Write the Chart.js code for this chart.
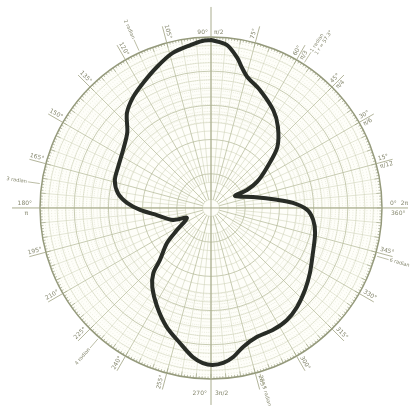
<!DOCTYPE html>
<html>
<head>
<meta charset="utf-8">
<script src="https://cdn.jsdelivr.net/npm/chart.js@4/dist/chart.umd.min.js"></script>
<style>
  html, body { margin: 0; padding: 0; background: #ffffff; }
  canvas { display: block; }
</style>
</head>
<body>
<canvas id="polar" width="415" height="406"></canvas>
<script>
// Curve traced counter-clockwise, starting at the top: angle in degrees, radius as a fraction of the rim
const thetaDeg = [90, 93, 97, 104, 111, 118.5, 125, 131.5, 138, 146.5, 156, 164, 171, 176.5, 181.5, 187.5, 197.5, 202.5,
  213, 218.5, 225.5, 228.5, 233.5, 241.5, 249.5, 257, 263, 267, 270.5, 274.5, 278.5, 283, 289.5, 297, 304, 311, 319,
  326.5, 336, 346.5, 353.5, 359, 3.5, 7, 14.5, 26.5, 26.5, 29.5, 36, 42.5, 50.5, 57.5, 67.5, 74.5, 77.5, 80, 84.5];
const radius = [0.982, 0.978, 0.961, 0.933, 0.883, 0.832, 0.793, 0.742, 0.659, 0.616, 0.594, 0.585, 0.551, 0.492, 0.415,
  0.319, 0.233, 0.152, 0.237, 0.329, 0.426, 0.509, 0.577, 0.659, 0.742, 0.810, 0.878, 0.908, 0.918, 0.909, 0.881, 0.834,
  0.801, 0.800, 0.792, 0.767, 0.729, 0.693, 0.652, 0.626, 0.601, 0.561, 0.480, 0.389, 0.254, 0.157, 0.235, 0.309, 0.406,
  0.526, 0.615, 0.678, 0.747, 0.795, 0.839, 0.890, 0.958];

// Rim labels
const degreeTicks = [15, 30, 45, 60, 75, 105, 120, 135, 150, 165, 195, 210, 225, 240, 255, 285, 300, 315, 330, 345];
const radianTicks = [1, 2, 3, 4, 5, 6];
const radianText = ['1 radian', '2 radian', '3 radian', '4 radian', '5 radian', '6 radian'];
const piText = { 15: 'π/12', 30: 'π/6', 45: 'π/4', 60: 'π/3' };

const toRad = d => d * Math.PI / 180;
const curve = thetaDeg.map((t, i) => ({ x: radius[i] * Math.cos(toRad(t)), y: radius[i] * Math.sin(toRad(t)) }));
curve.push({ ...curve[0] });

const GRID = 'rgba(178,184,150,0.8)';
const GRID_LIGHT = 'rgba(196,200,170,0.65)';
const RIM = '#959a7c';
const INK = '#85876e';

const polarPaper = {
  id: 'polarPaper',
  beforeDatasetsDraw(chart) {
    const { ctx, scales: { x, y } } = chart;
    const cx = x.getPixelForValue(0), cy = y.getPixelForValue(0);
    const R = x.getPixelForValue(1) - cx;
    const pt = (deg, r) => [cx + r * Math.cos(toRad(deg)), cy - r * Math.sin(toRad(deg))];
    ctx.save();

    // paper tint inside the rim
    ctx.fillStyle = '#fefef9';
    ctx.beginPath(); ctx.arc(cx, cy, R, 0, Math.PI * 2); ctx.fill();

    // concentric circles
    for (let k = 1; k < 20; k++) {
      ctx.strokeStyle = (k % 4 === 0) ? GRID : GRID_LIGHT;
      ctx.lineWidth = (k % 4 === 0) ? 0.9 : 0.7;
      ctx.beginPath(); ctx.arc(cx, cy, R * k / 20, 0, Math.PI * 2); ctx.stroke();
    }

    // fine 1-degree dotted radials in the outer band
    ctx.strokeStyle = 'rgba(192,196,160,0.5)';
    ctx.lineWidth = 0.6;
    ctx.setLineDash([1, 2.5]);
    for (let d = 0; d < 360; d++) {
      if (d % 5 === 0) continue;
      const a = pt(d, R * 0.5), b = pt(d, R);
      ctx.beginPath(); ctx.moveTo(a[0], a[1]); ctx.lineTo(b[0], b[1]); ctx.stroke();
    }
    ctx.setLineDash([]);

    // radial lines every 5 and 15 degrees
    for (let d = 0; d < 360; d += 5) {
      const major = d % 15 === 0;
      ctx.strokeStyle = major ? GRID : GRID_LIGHT;
      ctx.lineWidth = major ? 0.9 : 0.7;
      const a = pt(d, R * (major ? 0.05 : 0.15)), b = pt(d, R);
      ctx.beginPath(); ctx.moveTo(a[0], a[1]); ctx.lineTo(b[0], b[1]); ctx.stroke();
    }

    // rim degree ticks
    ctx.strokeStyle = RIM;
    for (let d = 0; d < 360; d++) {
      const len = d % 5 === 0 ? 5 : 2.5;
      ctx.lineWidth = 0.6;
      const a = pt(d, R - len), b = pt(d, R);
      ctx.beginPath(); ctx.moveTo(a[0], a[1]); ctx.lineTo(b[0], b[1]); ctx.stroke();
    }

    // rim
    ctx.lineWidth = 1.5;
    ctx.strokeStyle = RIM;
    ctx.beginPath(); ctx.arc(cx, cy, R, 0, Math.PI * 2); ctx.stroke();

    // main axes running past the rim
    ctx.lineWidth = 1;
    ctx.strokeStyle = '#a9ac8e';
    ctx.beginPath();
    ctx.moveTo(cx - R - 28, cy); ctx.lineTo(cx + R + 26, cy);
    ctx.moveTo(cx, cy - R - 30); ctx.lineTo(cx, cy + R + 26);
    ctx.stroke();

    // outside ticks and labels every 15 degrees
    ctx.fillStyle = INK;
    ctx.font = '6px "DejaVu Sans", sans-serif';
    degreeTicks.forEach(d => {
      const a = pt(d, R), b = pt(d, R + 17);
      ctx.strokeStyle = '#a9ac8e'; ctx.lineWidth = 0.9;
      ctx.beginPath(); ctx.moveTo(a[0], a[1]); ctx.lineTo(b[0], b[1]); ctx.stroke();
      const right = Math.cos(toRad(d)) > 0;
      const label = d + '°';
      ctx.save();
      const p = pt(d, R + 3);
      ctx.translate(p[0], p[1]);
      ctx.rotate(right ? -toRad(d) : Math.PI - toRad(d));
      ctx.textAlign = right ? 'left' : 'right';
      ctx.textBaseline = 'bottom';
      ctx.fillText(label, 0, -1);
      if (piText[d]) { ctx.textBaseline = 'top'; ctx.fillText(piText[d], 0, 1); }
      ctx.restore();
    });

    // radian marks
    radianTicks.forEach((r, i) => {
      const d = r * 180 / Math.PI;
      const a = pt(d, R + 2), b = pt(d, R + 14);
      ctx.strokeStyle = '#a9ac8e'; ctx.lineWidth = 0.8;
      ctx.beginPath(); ctx.moveTo(a[0], a[1]); ctx.lineTo(b[0], b[1]); ctx.stroke();
      const right = Math.cos(toRad(d)) > 0;
      ctx.save();
      const p = pt(d, R + 15);
      ctx.translate(p[0], p[1]);
      ctx.rotate(right ? -toRad(d) : Math.PI - toRad(d));
      ctx.textAlign = right ? 'left' : 'right';
      ctx.textBaseline = 'middle';
      ctx.font = '5px "DejaVu Sans", sans-serif';
      ctx.fillText(radianText[i], 0, 0);
      if (r === 1) { ctx.textBaseline = 'top'; ctx.fillText('1 r = 57.3°', 0, 3); }
      ctx.restore();
    });

    // cardinal labels
    ctx.font = '6px "DejaVu Sans", sans-serif';
    ctx.textBaseline = 'bottom';
    ctx.textAlign = 'right';
    ctx.fillText('90°', cx - 3, cy - R - 2);
    ctx.fillText('180°', cx - R - 8, cy - 2);
    ctx.textAlign = 'left';
    ctx.fillText('π/2', cx + 3, cy - R - 2);
    ctx.fillText('0°  2π', cx + R + 8, cy - 2);
    ctx.textBaseline = 'top';
    ctx.fillText('360°', cx + R + 9, cy + 2);
    ctx.textAlign = 'right';
    ctx.fillText('π', cx - R - 12, cy + 2);
    ctx.textBaseline = 'middle';
    ctx.fillText('270°', cx - 4, cy + R + 14);
    ctx.textAlign = 'left';
    ctx.fillText('3π/2', cx + 4, cy + R + 14);

    ctx.restore();
  }
};

new Chart(document.getElementById('polar'), {
  type: 'scatter',
  data: {
    datasets: [{
      data: curve,
      showLine: true,
      borderColor: '#282c26',
      borderWidth: 4,
      borderJoinStyle: 'round',
      borderCapStyle: 'round',
      pointRadius: 0,
      tension: 0.3,
      fill: false
    }]
  },
  options: {
    responsive: false,
    animation: false,
    layout: { padding: 0 },
    plugins: { legend: { display: false }, tooltip: { enabled: false } },
    scales: {
      x: { type: 'linear', min: -1.234, max: 1.193, display: false },
      y: { type: 'linear', min: -1.158, max: 1.216, display: false }
    }
  },
  plugins: [polarPaper]
});
</script>
</body>
</html>
